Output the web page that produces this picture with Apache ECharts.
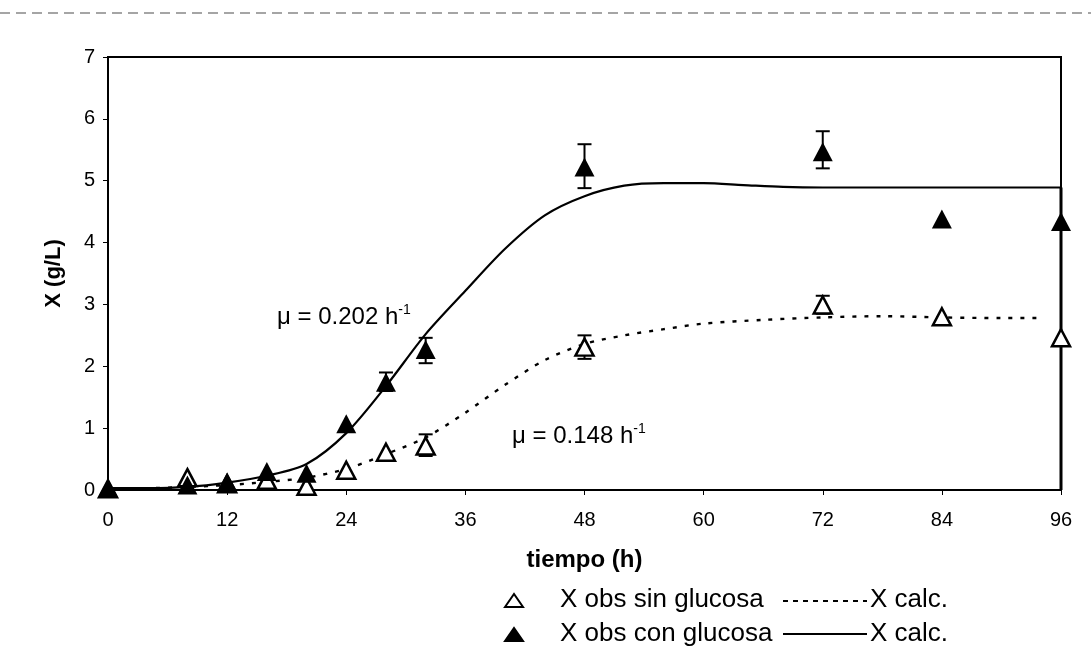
<!DOCTYPE html>
<html>
<head>
<meta charset="utf-8">
<script src="https://cdn.jsdelivr.net/npm/echarts@6/dist/echarts.min.js"></script>
<style>
html,body{margin:0;padding:0;background:#fff;}
#chart{width:1091px;height:648px;}
</style>
</head>
<body>
<div id="chart"></div>
<script>
// ---- data ----
const xTicks = [0, 12, 24, 36, 48, 60, 72, 84, 96];
const yTicks = [0, 1, 2, 3, 4, 5, 6, 7];

const obsHours = [0, 8, 12, 16, 20, 24, 28, 32, 48, 72, 84, 96];
const obsCon   = [0.03, 0.08, 0.13, 0.30, 0.27, 1.07, 1.74, 2.27, 5.22, 5.47, 4.38, 4.34];
const obsSin   = [0.02, 0.20, 0.10, 0.16, 0.06, 0.32, 0.61, 0.71, 2.31, 2.99, 2.80, 2.46];

const errConHours = [28, 32, 48, 72];
const errConLow   = [1.60, 2.05, 4.88, 5.20];
const errConHigh  = [1.90, 2.46, 5.59, 5.80];

const errSinHours = [32, 48, 72];
const errSinLow   = [0.55, 2.12, 2.85];
const errSinHigh  = [0.90, 2.50, 3.14];

const calcConHours = [0, 4, 8, 12, 16, 20, 24, 28, 32, 36, 40, 44, 48, 52, 56, 60, 64, 68, 72, 78, 84, 90, 96];
const calcCon      = [0.03, 0.03, 0.05, 0.12, 0.23, 0.42, 0.92, 1.68, 2.52, 3.22, 3.90, 4.44, 4.75, 4.92, 4.96, 4.96, 4.93, 4.90, 4.89, 4.89, 4.89, 4.89, 4.89];
const dropHours = [96, 96];
const dropVals  = [4.89, 0];

const calcSinHours = [0, 4, 8, 12, 16, 20, 24, 28, 32, 36, 40, 44, 48, 52, 56, 60, 66, 72, 78, 84, 90, 94];
const calcSin      = [0.03, 0.03, 0.05, 0.08, 0.13, 0.20, 0.34, 0.58, 0.85, 1.25, 1.70, 2.10, 2.36, 2.50, 2.60, 2.69, 2.75, 2.79, 2.81, 2.79, 2.78, 2.78];

const muCon = 'μ = 0.202 h';
const muSin = 'μ = 0.148 h';
const legendLabels = ['X obs sin glucosa', 'X obs con glucosa', 'X calc.'];

// ---- build ----
const FONT = '"Liberation Sans", Arial, sans-serif';
const zip = (a, b) => a.map((v, i) => [v, b[i]]);
const zip3 = (a, b, c) => a.map((v, i) => [v, b[i], c[i]]);

function errRender(params, api) {
  const x = api.value(0);
  const lo = api.coord([x, api.value(1)]);
  const hi = api.coord([x, api.value(2)]);
  const w = 7;
  const st = { stroke: '#000', lineWidth: 2 };
  return {
    type: 'group',
    children: [
      { type: 'line', shape: { x1: lo[0], y1: lo[1], x2: hi[0], y2: hi[1] }, style: st },
      { type: 'line', shape: { x1: lo[0] - w, y1: lo[1], x2: lo[0] + w, y2: lo[1] }, style: st },
      { type: 'line', shape: { x1: hi[0] - w, y1: hi[1], x2: hi[0] + w, y2: hi[1] }, style: st }
    ]
  };
}

const chart = echarts.init(document.getElementById('chart'), null, { renderer: 'canvas' });

const tri = (cx, cy, filled) => ({
  type: 'polygon',
  shape: { points: [[cx - 9, cy + 6], [cx, cy - 7], [cx + 9, cy + 6]] },
  style: { fill: filled ? '#000' : '#fff', stroke: '#000', lineWidth: 2 }
});
const txt = (x, y, s) => ({
  type: 'text', left: x, top: y,
  style: { text: s, font: '26px ' + FONT, fill: '#000' }
});
const muText = (x, y, s) => ({
  type: 'text', left: x, top: y, style: {
    text: '{a|' + s + '}{s|-1}',
    rich: { a: { font: '24px ' + FONT, fill: '#000', lineHeight: 28 },
            s: { font: '14px ' + FONT, fill: '#000', lineHeight: 14, verticalAlign: 'top' } } }
});

chart.setOption({
  backgroundColor: '#fff',
  animation: false,
  grid: { left: 108, top: 57, right: 30, bottom: 158, show: true, borderColor: '#000', borderWidth: 2 },
  xAxis: {
    type: 'value', min: 0, max: 96, interval: 12,
    name: 'tiempo (h)', nameLocation: 'middle', nameGap: 58,
    nameTextStyle: { fontFamily: FONT, fontSize: 24, fontWeight: 'bold', color: '#000' },
    axisLine: { show: true, onZero: false, lineStyle: { color: '#000', width: 2 } },
    axisTick: { show: true, inside: false, length: 5, lineStyle: { color: '#000' } },
    axisLabel: { margin: 20, fontFamily: FONT, fontSize: 20, color: '#000',
      formatter: v => xTicks.includes(v) ? String(v) : '' },
    splitLine: { show: false }
  },
  yAxis: {
    type: 'value', min: 0, max: 7, interval: 1,
    name: 'X (g/L)', nameLocation: 'middle', nameGap: 43,
    nameTextStyle: { fontFamily: FONT, fontSize: 22, fontWeight: 'bold', color: '#000' },
    axisLine: { show: true, lineStyle: { color: '#000', width: 2 } },
    axisTick: { show: true, inside: false, length: 5, lineStyle: { color: '#000' } },
    axisLabel: { margin: 13, fontFamily: FONT, fontSize: 20, color: '#000',
      formatter: v => yTicks.includes(v) ? String(v) : '' },
    splitLine: { show: false }
  },
  series: [
    { type: 'line', name: 'calcSin', data: zip(calcSinHours, calcSin), smooth: 0.3, symbol: 'none',
      lineStyle: { color: '#000', width: 2.4, type: [4, 8] }, z: 2 },
    { type: 'line', name: 'calcCon', data: zip(calcConHours, calcCon), smooth: 0.3, symbol: 'none',
      lineStyle: { color: '#000', width: 2.2 }, z: 2 },
    { type: 'line', name: 'drop', data: zip(dropHours, dropVals), symbol: 'none',
      lineStyle: { color: '#000', width: 3 }, z: 2 },
    { type: 'custom', name: 'errCon', data: zip3(errConHours, errConLow, errConHigh), renderItem: errRender, z: 3 },
    { type: 'custom', name: 'errSin', data: zip3(errSinHours, errSinLow, errSinHigh), renderItem: errRender, z: 3 },
    { type: 'scatter', name: legendLabels[0], data: zip(obsHours, obsSin), symbol: 'triangle', symbolSize: [18, 17],
      itemStyle: { color: '#fff', borderColor: '#000', borderWidth: 2.5, opacity: 1 }, z: 4 },
    { type: 'scatter', name: legendLabels[1], data: zip(obsHours, obsCon), symbol: 'triangle', symbolSize: [20, 19],
      itemStyle: { color: '#000', borderColor: '#000', borderWidth: 0, opacity: 1 }, z: 5 }
  ],
  graphic: [
    { type: 'line', shape: { x1: 0, y1: 13, x2: 1091, y2: 13 }, style: { stroke: '#888', lineWidth: 1.5, lineDash: [10, 6] } },
    muText(277, 303, muCon),
    muText(512, 422, muSin),
    tri(514, 601, false),
    txt(560, 587, legendLabels[0]),
    { type: 'line', shape: { x1: 783, y1: 601, x2: 867, y2: 601 }, style: { stroke: '#000', lineWidth: 2, lineDash: [5, 5] } },
    txt(870, 587, legendLabels[2]),
    tri(514, 635, true),
    txt(560, 621, legendLabels[1]),
    { type: 'line', shape: { x1: 783, y1: 634, x2: 867, y2: 634 }, style: { stroke: '#000', lineWidth: 2 } },
    txt(870, 621, legendLabels[2])
  ]
});
</script>
</body>
</html>
